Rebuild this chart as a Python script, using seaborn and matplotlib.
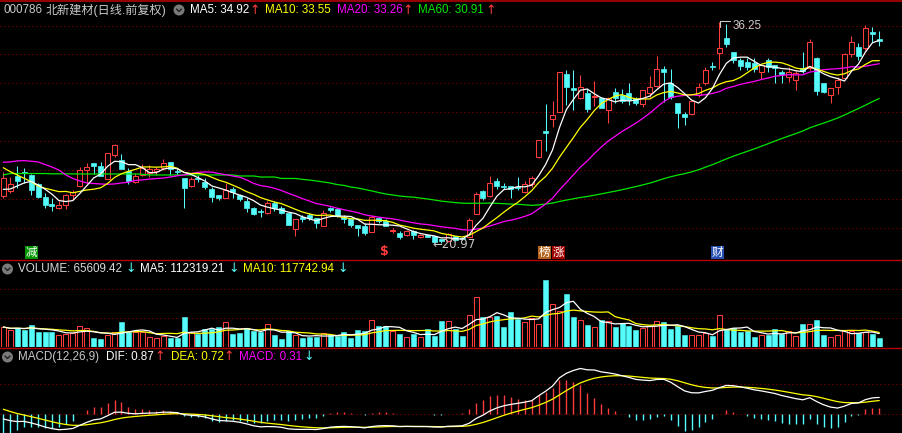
import numpy as np
import pandas as pd
import matplotlib
matplotlib.use("Agg")
import matplotlib.pyplot as plt
import seaborn as sns
from matplotlib.patches import Rectangle, Ellipse
from matplotlib.lines import Line2D

sns.set_theme(style="dark")
plt.rcParams['font.family'] = ['Liberation Sans', 'Noto Sans CJK SC', 'DejaVu Sans']

# ---------------- data ----------------
opens = [24.26, 24.61, 25.62, 25.90, 25.69, 25.05, 24.19, 23.68, 23.39, 23.62,
         24.33, 24.95, 26.03, 26.54, 26.33, 25.39, 27.05, 26.72, 25.99, 25.23,
         25.69, 25.81, 25.98, 26.19, 26.57, 25.99, 25.50, 24.95, 25.50, 25.23,
         24.70, 24.31, 24.12, 24.73, 24.31, 23.92, 23.43, 23.22, 23.05, 23.78,
         23.43, 23.09, 21.97, 22.78, 22.93, 22.70, 22.19, 23.39, 23.32, 22.77,
         22.63, 22.24, 22.19, 21.78, 22.74, 22.52, 21.81, 21.67, 21.53, 21.83,
         21.39, 21.55, 21.48, 21.26, 21.14, 21.48, 21.36, 21.43, 22.97, 24.57,
         24.26, 25.25, 24.92, 24.93, 24.88, 24.54, 25.07, 26.93, 28.70, 29.53,
         30.06, 32.66, 31.71, 31.02, 31.32, 31.05, 31.02, 30.17, 31.43, 31.21,
         31.37, 30.91, 30.57, 31.32, 31.83, 33.00, 32.01, 30.63, 29.90, 29.88,
         31.21, 32.01, 33.23, 34.08, 35.15, 34.16, 33.62, 33.50, 33.39, 32.81,
         33.62, 33.28, 32.81, 32.47, 32.24, 33.09, 33.09, 33.74, 32.01, 31.21,
         31.78, 32.36, 34.01, 34.50, 34.43, 35.53, 35.07]
highs = [25.88, 25.57, 26.31, 26.15, 25.75, 25.12, 24.43, 24.12, 23.90, 24.35,
         24.66, 26.22, 26.54, 26.54, 26.61, 27.19, 27.80, 27.14, 26.15, 25.85,
         26.43, 26.38, 26.26, 26.77, 26.60, 26.15, 25.50, 25.57, 25.69, 25.46,
         24.88, 24.31, 25.12, 24.84, 24.35, 24.08, 23.45, 23.32, 23.92, 23.92,
         23.55, 23.09, 22.66, 22.93, 23.05, 22.70, 23.28, 23.50, 23.39, 22.93,
         22.66, 22.24, 22.36, 22.93, 22.80, 22.63, 22.06, 21.85, 21.90, 21.90,
         21.60, 21.60, 21.50, 21.30, 21.70, 21.50, 21.40, 22.70, 24.50, 24.66,
         25.62, 25.48, 25.16, 24.95, 25.57, 25.30, 25.62, 28.10, 30.59, 30.81,
         32.77, 32.93, 32.93, 32.60, 31.62, 32.17, 31.09, 31.09, 31.67, 31.60,
         32.00, 31.09, 31.55, 32.52, 33.90, 33.21, 33.00, 30.63, 30.05, 30.85,
         32.01, 33.16, 33.50, 36.25, 36.10, 34.16, 33.78, 33.78, 33.73, 33.30,
         33.78, 33.30, 32.93, 33.16, 32.93, 34.20, 35.07, 33.80, 32.01, 31.70,
         32.47, 34.10, 35.30, 34.78, 36.03, 35.92, 35.60]
lows = [24.12, 24.47, 24.77, 25.12, 24.31, 24.10, 23.43, 23.21, 23.34, 23.32,
        23.97, 24.84, 25.12, 25.74, 25.60, 25.39, 26.91, 26.10, 25.05, 25.12,
        25.60, 25.57, 25.69, 26.03, 25.69, 25.69, 23.43, 24.84, 25.23, 24.70,
        23.85, 23.97, 24.10, 24.08, 23.90, 23.16, 22.93, 22.81, 23.00, 23.21,
        22.98, 22.24, 21.48, 22.43, 22.59, 22.01, 22.15, 23.16, 22.77, 22.40,
        22.12, 21.48, 21.55, 21.75, 22.36, 22.15, 21.71, 21.27, 21.50, 21.27,
        21.36, 21.40, 20.97, 21.02, 21.10, 21.15, 21.20, 21.40, 22.97, 23.97,
        24.20, 24.70, 24.70, 24.12, 24.66, 24.47, 24.88, 26.84, 27.37, 29.02,
        30.00, 30.50, 30.17, 30.95, 30.06, 30.45, 30.29, 29.30, 30.63, 30.63,
        30.52, 30.52, 30.40, 31.09, 31.74, 30.74, 30.90, 28.91, 29.14, 29.85,
        31.09, 31.90, 32.93, 33.00, 34.50, 33.40, 32.93, 32.93, 32.81, 32.31,
        32.77, 32.01, 32.01, 32.10, 31.55, 32.70, 32.93, 31.21, 31.32, 30.63,
        31.25, 32.30, 33.85, 33.62, 34.31, 34.88, 34.59]
closes = [25.46, 25.05, 25.28, 25.81, 24.66, 24.19, 23.62, 23.55, 23.62, 24.31,
          24.52, 26.03, 26.24, 26.33, 25.64, 27.19, 27.76, 26.12, 25.30, 25.64,
          26.15, 26.08, 26.08, 26.50, 26.08, 25.88, 24.81, 25.39, 25.39, 24.88,
          24.19, 24.12, 24.66, 24.50, 24.03, 23.43, 22.98, 23.14, 23.78, 23.43,
          23.05, 22.24, 22.66, 22.68, 22.70, 22.36, 23.05, 23.30, 22.86, 22.68,
          22.24, 22.01, 21.71, 22.81, 22.52, 22.19, 21.90, 21.43, 21.85, 21.55,
          21.53, 21.43, 21.09, 21.14, 21.62, 21.21, 21.27, 22.59, 24.38, 24.10,
          25.15, 24.93, 24.85, 24.72, 24.79, 25.07, 25.50, 28.10, 28.60, 29.83,
          32.77, 31.74, 31.57, 31.78, 30.24, 31.14, 30.33, 30.98, 30.98, 30.81,
          30.86, 30.68, 31.53, 31.78, 33.00, 32.81, 31.09, 29.94, 29.66, 30.79,
          31.78, 32.93, 33.12, 34.43, 34.69, 33.62, 33.23, 33.12, 33.00, 33.28,
          33.16, 33.09, 32.63, 32.81, 32.70, 32.86, 34.88, 31.49, 31.43, 31.67,
          32.24, 34.01, 34.84, 33.92, 35.81, 35.41, 34.93]
volumes = [140, 122, 133, 122, 154, 108, 108, 108, 85, 92,
           99, 147, 133, 64, 57, 85, 106, 175, 106, 106,
           106, 71, 64, 78, 64, 64, 209, 106, 92, 126,
           126, 140, 175, 92, 99, 133, 113, 106, 161, 85,
           57, 113, 83, 64, 71, 71, 99, 85, 78, 106,
           64, 120, 113, 189, 147, 147, 113, 92, 71, 92,
           71, 126, 78, 182, 184, 126, 78, 220, 345, 207,
           207, 216, 140, 243, 198, 175, 202, 161, 464, 296,
           248, 370, 209, 189, 154, 140, 189, 182, 140, 168,
           147, 120, 133, 147, 182, 175, 126, 147, 85, 85,
           85, 99, 78, 223, 126, 133, 106, 110, 71, 85,
           85, 126, 92, 113, 78, 161, 161, 189, 85, 71,
           85, 120, 110, 97, 108, 92, 65.6]
volumes = [v * 1000 for v in volumes]

# moving-average values before enough bars are visible
ma5_head = [24.70, 24.72, 24.93, 25.14]
ma10_head = [26.19, 25.92, 25.69, 25.46, 25.23, 24.93, 24.77, 24.66, 24.54]
ma20_head = [26.57, 26.59, 26.66, 26.68, 26.64, 26.59, 26.41, 26.24, 26.03, 25.69,
             25.45, 25.28, 25.14, 25.10, 25.07, 25.05, 25.07, 25.14, 25.19]
ma60_head = [25.69, 25.79, 25.79, 25.79, 25.79, 25.79, 25.79, 25.77, 25.77, 25.77,
             25.76, 25.76, 25.76, 25.76, 25.76, 25.76, 25.76, 25.76, 25.76, 25.76,
             25.74, 25.69, 25.69, 25.69, 25.69, 25.69, 25.69, 25.69, 25.69, 25.69,
             25.69, 25.69, 25.69, 25.69, 25.62, 25.62, 25.62, 25.55, 25.55, 25.55,
             25.45, 25.45, 25.45, 25.39, 25.34, 25.28, 25.21, 25.14, 25.03, 24.97,
             24.86, 24.79, 24.69, 24.59, 24.48, 24.38, 24.31, 24.24, 24.19]
# MACD state at the first visible bar
dif_start = -0.24
dea_start = 0.26
ema26_start = 26.6

# ---------------- derived series ----------------
n = len(closes)
idx = np.arange(n)
c = pd.Series(closes, dtype=float)


def ma_with_head(win, head):
    m = c.rolling(win).mean().to_numpy()
    m[:len(head)] = head
    return m


ma5 = ma_with_head(5, ma5_head)
ma10 = ma_with_head(10, ma10_head)
ma20 = ma_with_head(20, ma20_head)
ma60 = ma_with_head(60, ma60_head)

e26 = ema26_start
e12 = ema26_start + dif_start
dif = [dif_start]
dea = [dea_start]
for k in range(1, n):
    e12 = e12 * 11 / 13 + closes[k] * 2 / 13
    e26 = e26 * 25 / 27 + closes[k] * 2 / 27
    d = e12 - e26
    dif.append(d)
    dea.append(dea[-1] * 0.8 + d * 0.2)
dif = np.array(dif)
dea = np.array(dea)
macd = 2 * (dif - dea)

v = pd.Series(volumes, dtype=float)
vma5 = v.rolling(5, min_periods=1).mean().to_numpy()
vma10 = v.rolling(10, min_periods=1).mean().to_numpy()

# ---------------- styling ----------------
RED = '#ff3c3c'
CYAN = '#54fcfc'
WHITE = '#ffffff'
YELLOW = '#ffff00'
MAGENTA = '#ff00ff'
GREEN = '#00e600'
GRID = '#8c0000'
SEP = '#b40000'

W, H = 902, 433
fig = plt.figure(figsize=(W / 100, H / 100), dpi=100, facecolor='black')


def ax_at(top_px, bot_px):
    a = fig.add_axes([0, 1 - bot_px / H, 1, (bot_px - top_px) / H])
    a.set_facecolor('black')
    a.axis('off')
    a.set_xlim(-0.475, 129.27)
    return a


ax_p = ax_at(1, 259.5)
ax_v = ax_at(260.5, 347.3)
ax_m = ax_at(348.3, 433)
ax_p.set_ylim(19.86, 37.69)
ax_v.set_ylim(0, 598.6e3)
ax_m.set_ylim(-0.959, 3.385)

dots = (0, (1, 2.6))
for yv in [22, 24, 26, 28, 30, 32, 34, 36]:
    ax_p.axhline(yv, color=GRID, lw=0.8, ls=dots, zorder=0)
for yv in [200e3, 400e3]:
    ax_v.axhline(yv, color=GRID, lw=0.8, ls=dots, zorder=0)
for yv in [0, 1.54]:
    ax_m.axhline(yv, color=GRID, lw=0.8, ls=dots, zorder=0)

# candlesticks
BW = 0.72
for i in range(n):
    o, h, l, cl = opens[i], highs[i], lows[i], closes[i]
    up = cl >= o
    col = RED if up else CYAN
    top, bot = max(o, cl), min(o, cl)
    ax_p.vlines(i, top, h, color=col, lw=0.75, zorder=3)
    ax_p.vlines(i, l, bot, color=col, lw=0.75, zorder=3)
    hgt = max(top - bot, 0.03)
    if up:
        ax_p.add_patch(Rectangle((i - BW / 2, bot), BW, hgt, facecolor='black',
                                 edgecolor=col, lw=0.75, zorder=4))
    else:
        ax_p.add_patch(Rectangle((i - BW / 2, bot), BW, hgt, facecolor=col,
                                 edgecolor=col, lw=0.5, zorder=4))

for series, col in [(ma60, GREEN), (ma20, MAGENTA), (ma10, YELLOW), (ma5, WHITE)]:
    sns.lineplot(x=idx, y=series, ax=ax_p, color=col, lw=0.9, legend=False, zorder=5)

# volume
for i in range(n):
    up = closes[i] >= opens[i]
    if up:
        ax_v.bar(i, volumes[i], width=BW, facecolor='black', edgecolor=RED, lw=0.75, zorder=3)
    else:
        ax_v.bar(i, volumes[i], width=BW, facecolor=CYAN, edgecolor=CYAN, lw=0.4, zorder=3)
sns.lineplot(x=idx, y=vma10, ax=ax_v, color=YELLOW, lw=0.9, legend=False, zorder=5)
sns.lineplot(x=idx, y=vma5, ax=ax_v, color=WHITE, lw=0.9, legend=False, zorder=5)

# macd
ax_m.vlines(idx, 0, macd, colors=[RED if m >= 0 else CYAN for m in macd], lw=1.0, zorder=3)
sns.lineplot(x=idx, y=dea, ax=ax_m, color=YELLOW, lw=0.9, legend=False, zorder=5)
sns.lineplot(x=idx, y=dif, ax=ax_m, color=WHITE, lw=0.9, legend=False, zorder=5)

# separators
for ypx, lw in [(0.5, 1.2), (259.8, 1.0), (347.8, 1.0)]:
    fig.add_artist(Line2D([0, 1], [1 - ypx / H, 1 - ypx / H], color=SEP, lw=lw,
                          transform=fig.transFigure))


def ftext(xpx, ypx, s, color, size=8.4, **kw):
    fig.text(xpx / W, 1 - ypx / H, s, color=color, fontsize=size, va='center', ha='left', **kw)


def icon(xpx, ypx):
    fig.add_artist(Ellipse((xpx / W, 1 - ypx / H), 11 / W, 11 / H, facecolor='#7a7a7a',
                           edgecolor='none', transform=fig.transFigure))
    fig.add_artist(Line2D([(xpx - 2.5) / W, xpx / W, (xpx + 2.5) / W],
                          [1 - (ypx - 1) / H, 1 - (ypx + 1.5) / H, 1 - (ypx - 1) / H],
                          color='#202020', lw=1.0, transform=fig.transFigure))


ARW = dict(family=['DejaVu Sans'])
# header of price panel
ftext(4, 10, "000786", '#c8c8c8')
ftext(46, 10, "北新建材(日线.前复权)", '#c8c8c8', size=8.7)
icon(179, 10)
ftext(190, 10, "MA5: 34.92", WHITE)
ftext(249, 10, "↑", RED, size=9, **ARW)
ftext(265, 10, "MA10: 33.55", YELLOW)
ftext(337, 10, "MA20: 33.26", MAGENTA)
ftext(402, 10, "↑", RED, size=9, **ARW)
ftext(418, 10, "MA60: 30.91", GREEN)
ftext(485, 10, "↑", RED, size=9, **ARW)

# volume header
icon(7.5, 269)
ftext(18, 269, "VOLUME: 65609.42", '#d8d8d8')
ftext(125, 269, "↓", CYAN, size=9, **ARW)
ftext(140, 269, "MA5: 112319.21", WHITE)
ftext(228, 269, "↓", CYAN, size=9, **ARW)
ftext(243, 269, "MA10: 117742.94", YELLOW)
ftext(337, 269, "↓", CYAN, size=9, **ARW)

# macd header
icon(7.5, 357)
ftext(18, 357, "MACD(12,26,9)", '#c8c8c8')
ftext(106, 357, "DIF: 0.87", WHITE)
ftext(154, 357, "↑", RED, size=9, **ARW)
ftext(171, 357, "DEA: 0.72", YELLOW)
ftext(223, 357, "↑", RED, size=9, **ARW)
ftext(239, 357, "MACD: 0.31", MAGENTA)
ftext(303, 357, "↓", CYAN, size=9, **ARW)

# extreme labels
ftext(432, 245, "←20.97", '#c8c8c8', size=8.4, family=['DejaVu Sans'])
fig.add_artist(Line2D([720 / W, 720 / W, 730 / W], [1 - 27 / H, 1 - 21 / H, 1 - 21 / H],
                      color='#c8c8c8', lw=0.8, transform=fig.transFigure))
ftext(733, 26, "36.25", '#c8c8c8')

# event tags along the bottom of the price panel


def tag(xpx, s, bg, fg):
    fig.add_artist(Rectangle((xpx / W, 1 - 259 / H), 13 / W, 13 / H, facecolor=bg,
                             edgecolor='none', transform=fig.transFigure))
    fig.text((xpx + 6.5) / W, 1 - 252.5 / H, s, color=fg, fontsize=8.4, ha='center',
             va='center', family=['Noto Sans CJK SC'])


tag(25, "减", '#009600', '#ffffff')
tag(538, "榜", '#b4641e', '#ffffff')
tag(552, "涨", '#a00000', '#ffffff')
tag(711, "财", '#2850b4', '#ffffff')
ftext(380, 252, "$", RED, size=9, family=['DejaVu Sans'], weight='bold')

fig.savefig("out.png", dpi=100, facecolor='black')
